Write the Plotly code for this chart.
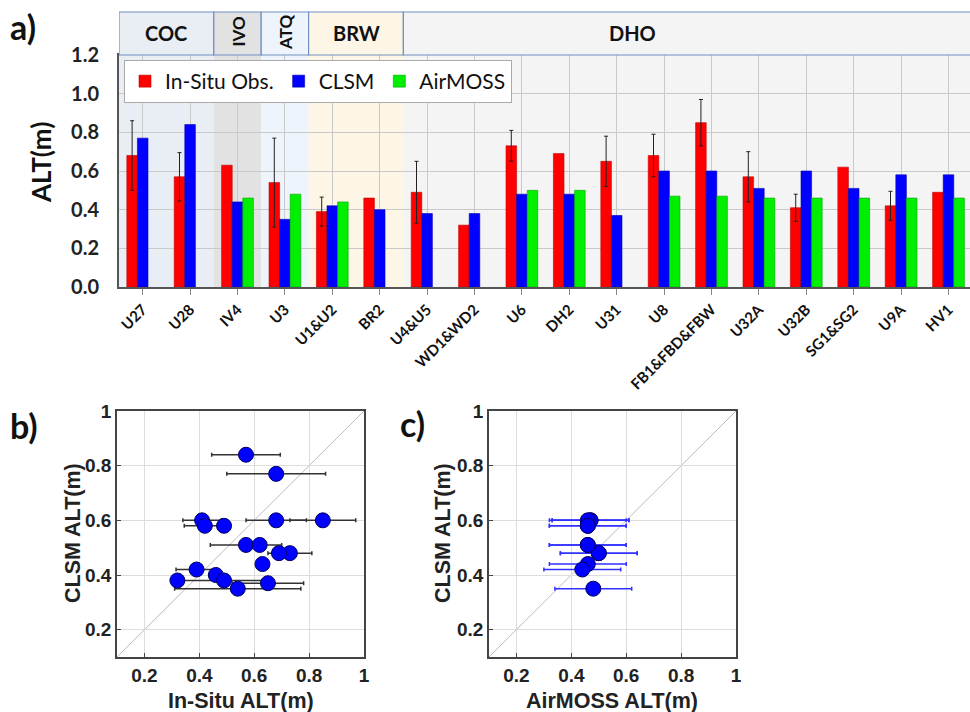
import plotly.graph_objects as go

sites = ["U27", "U28", "IV4", "U3", "U1&U2", "BR2", "U4&U5", "WD1&WD2", "U6", "DH2",
         "U31", "U8", "FB1&FBD&FBW", "U32A", "U32B", "SG1&SG2", "U9A", "HV1"]
insitu = [0.68, 0.57, 0.63, 0.54, 0.39, 0.46, 0.49, 0.32, 0.73, 0.69,
          0.65, 0.68, 0.85, 0.57, 0.41, 0.62, 0.42, 0.49]
insitu_err = [0.18, 0.125, None, 0.23, 0.075, None, 0.16, None, 0.08, None,
              0.13, 0.11, 0.12, 0.13, 0.07, None, 0.075, None]
clsm = [0.77, 0.84, 0.44, 0.35, 0.42, 0.40, 0.38, 0.38, 0.48, 0.48,
        0.37, 0.60, 0.60, 0.51, 0.60, 0.51, 0.58, 0.58]
airmoss = [None, None, 0.46, 0.48, 0.44, None, None, None, 0.50, 0.50,
           None, 0.47, 0.47, 0.46, 0.46, 0.46, 0.46, 0.46]
airmoss_err = [None, None, 0.14, 0.14, 0.14, None, None, None, 0.14, 0.14,
               None, 0.14, 0.14, 0.14, 0.14, 0.14, 0.14, 0.14]

# site regions: (label, first index, last index, colour, vertical text)
regions = [("COC", 0, 1, "#e9edf4", False), ("IVO", 2, 2, "#e2e2e2", True),
           ("ATQ", 3, 3, "#eef4fb", True), ("BRW", 4, 5, "#fdf5e5", False),
           ("DHO", 6, 17, "#f4f4f4", False)]

W, H = 970, 712
def px(x): return x / W
def py(y): return 1 - y / H

def err(arr):
    # missing values -> non-numeric so plotly draws no error bar at all
    return [("none" if e is None else e) for e in arr]

FONT = "Lato"
AF = "Liberation Sans"
fig = go.Figure()

idx = list(range(len(sites)))
fig.add_trace(go.Bar(x=idx, y=insitu, name="In-Situ Obs.",
                     marker=dict(color="#ff0000", line=dict(color="#c00000", width=0.6)),
                     error_y=dict(type="data", array=err(insitu_err), color="#222", thickness=1, width=2),
                     xaxis="x", yaxis="y"))
fig.add_trace(go.Bar(x=idx, y=clsm, name="CLSM",
                     marker=dict(color="#0000ff", line=dict(color="#0000b0", width=0.6)),
                     xaxis="x", yaxis="y"))
fig.add_trace(go.Bar(x=idx, y=airmoss, name="AirMOSS",
                     marker=dict(color="#00ee00", line=dict(color="#00a800", width=0.6)),
                     xaxis="x", yaxis="y"))

# panel b
fig.add_trace(go.Scatter(x=insitu, y=clsm, mode="markers", showlegend=False,
                         marker=dict(color="#0000ff", size=15, line=dict(color="#000060", width=1)),
                         error_x=dict(type="data", array=err(insitu_err), color="#333", thickness=1.5, width=2),
                         xaxis="x2", yaxis="y2"))
# panel c
cx = [a for a in airmoss if a is not None]
cy = [c for c, a in zip(clsm, airmoss) if a is not None]
ce = [e for e, a in zip(airmoss_err, airmoss) if a is not None]
fig.add_trace(go.Scatter(x=cx, y=cy, mode="markers", showlegend=False,
                         marker=dict(color="#0000ff", size=15, line=dict(color="#000060", width=1)),
                         error_x=dict(type="data", array=ce, color="#3030ff", thickness=1.5, width=2),
                         xaxis="x3", yaxis="y3"))

xr_end = -0.5 + (970 - 119) / 47.4
shapes = []
annotations = []
for lab, a, b, col, vert in regions:
    x1 = min(b + 0.5, xr_end)
    shapes.append(dict(type="rect", xref="x", yref="y", x0=a - 0.5, x1=x1, y0=0, y1=1.2,
                       fillcolor=col, line=dict(width=0), layer="below"))
    shapes.append(dict(type="rect", xref="x", yref="paper", x0=a - 0.5, x1=b + 0.5 if b < 17 else 18.5,
                       y0=py(55), y1=py(12), fillcolor=col, line=dict(color="#7390c0", width=1.2),
                       layer="above"))
    tx = (a + b) / 2 if lab != "DHO" else (632 - 119) / 47.4 - 0.5
    annotations.append(dict(text="<b>%s</b>" % lab, x=tx, y=py(32 if vert else 33), xref="x", yref="paper",
                            xanchor="center", yanchor="middle",
                            showarrow=False, textangle=-90 if vert else 0,
                            font=dict(family=FONT, size=17 if vert else 20, color="#111")))

# 1:1 lines
for xa, ya in (("x2", "y2"), ("x3", "y3")):
    shapes.append(dict(type="line", xref=xa, yref=ya, x0=0.1, y0=0.1, x1=1, y1=1,
                       line=dict(color="#bbbbbb", width=1), layer="below"))

def ann(text, x, y, size, family, angle=0, xanchor="center", color="#222"):
    return dict(text=text, x=px(x), y=py(y), xref="paper", yref="paper", xanchor=xanchor,
                yanchor="middle", textangle=angle, showarrow=False,
                font=dict(family=family, size=size, color=color))

annotations += [
    ann("<b>a)</b>", 8, 27, 34, FONT, xanchor="left", color="#111"),
    ann("<b>b)</b>", 8, 425, 34, FONT, xanchor="left", color="#111"),
    ann("<b>c)</b>", 398, 423, 34, FONT, xanchor="left", color="#111"),
    ann("<b>ALT(m)</b>", 41, 163, 26, FONT, angle=-90, color="#111"),
    ann("<b>CLSM ALT(m)</b>", 73, 533, 21.5, AF, angle=-90),
    ann("<b>In-Situ ALT(m)</b>", 241, 701, 21.5, AF),
    ann("<b>CLSM ALT(m)</b>", 443, 533, 21.5, AF, angle=-90),
    ann("<b>AirMOSS ALT(m)</b>", 612, 701, 21.5, AF),
]

sq_ax = dict(range=[0.1, 1], tickvals=[0.2, 0.4, 0.6, 0.8, 1], ticktext=["0.2", "0.4", "0.6", "0.8", "1"],
             showgrid=True, gridcolor="#dddddd", showline=True, linecolor="#444", linewidth=1.5,
             mirror=True, ticks="inside", ticklen=4, tickcolor="#444", zeroline=False,
             automargin=False,
             tickfont=dict(family=AF, size=19, color="#222", weight="bold"))

fig.update_layout(
    width=W, height=H, margin=dict(l=0, r=0, t=0, b=0, autoexpand=False),
    paper_bgcolor="white", plot_bgcolor="white",
    barmode="group", bargap=0.33, bargroupgap=0,
    showlegend=True,
    legend=dict(orientation="h", x=px(124), y=py(60), xanchor="left", yanchor="top",
                bgcolor="white", bordercolor="#aaaaaa", borderwidth=1,
                font=dict(family=FONT, size=21, color="#111"), itemwidth=30,
                traceorder="normal"),
    xaxis=dict(domain=[px(119), 1], range=[-0.5, xr_end], tickmode="array", tickvals=idx,
               ticktext=sites, tickangle=-45, tickson="boundaries",
               ticks="outside", ticklen=6, tickcolor="#888", showgrid=True, gridcolor="#c9c9c9",
               showline=True, linecolor="#555", linewidth=2, mirror=True, automargin=False,
               tickfont=dict(family=FONT, size=15, color="#111", weight="bold"), anchor="y"),
    yaxis=dict(domain=[py(287), py(55)], range=[0, 1.2], dtick=0.2, tickformat=".1f",
               showgrid=True, gridcolor="#c9c9c9", showline=True, linecolor="#555", linewidth=2,
               zeroline=False, automargin=False, ticklabelstandoff=14,
               tickfont=dict(family=FONT, size=20, color="#222", weight="bold"), ticks="", anchor="x"),
    xaxis2=dict(sq_ax, domain=[px(117), px(364)], anchor="y2"),
    yaxis2=dict(sq_ax, domain=[py(657), py(411)], anchor="x2"),
    xaxis3=dict(sq_ax, domain=[px(489), px(736)], anchor="y3"),
    yaxis3=dict(sq_ax, domain=[py(657), py(411)], anchor="x3"),
    shapes=shapes, annotations=annotations,
)

fig.write_html("out.html")
